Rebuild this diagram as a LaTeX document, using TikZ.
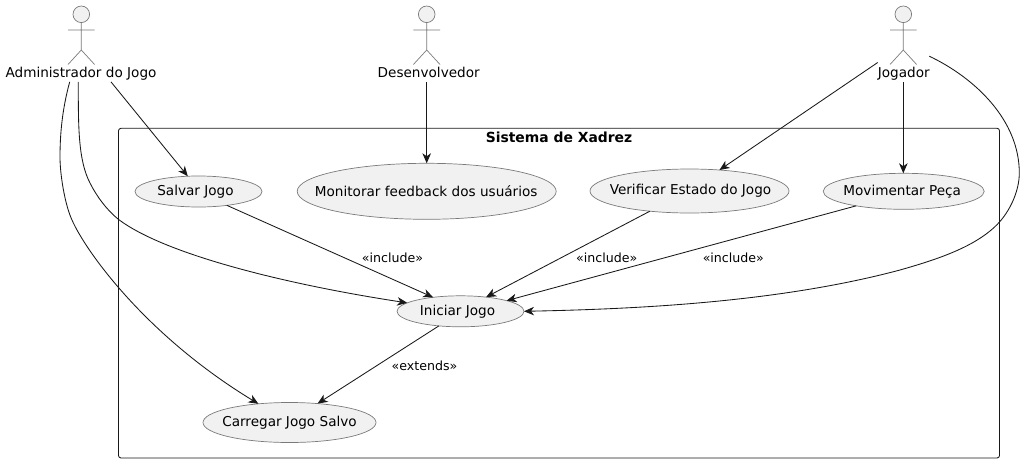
\documentclass[tikz,border=0pt]{standalone}
\usepackage{fontspec}
\setmainfont{DejaVu Sans}
\usetikzlibrary{shapes.geometric,arrows.meta}
\definecolor{ufill}{HTML}{F1F1F1}
\definecolor{ustroke}{HTML}{7A7A7A}
\definecolor{uline}{HTML}{181818}
\tikzset{
  usecase/.style={ellipse,draw=ustroke,fill=ufill,line width=0.7pt,inner sep=0pt,outer sep=0pt,font=\fontsize{13.6}{16}\selectfont},
  actorlabel/.style={inner sep=0pt,anchor=base,font=\fontsize{13.6}{16}\selectfont,text height=10pt,text depth=4.2pt},
  actorline/.style={draw=ustroke,line width=0.7pt},
  conn/.style={draw=uline,line width=0.85pt,-{Stealth[length=10pt,width=8.5pt,inset=3pt]}},
  edgelabel/.style={inner sep=0pt,anchor=base,font=\fontsize{12.6}{15}\selectfont},
  framebox/.style={draw=uline,line width=0.85pt,rounded corners=2.5pt},
  frametitle/.style={inner sep=0pt,font=\fontsize{13.9}{16}\selectfont\bfseries}
}
\newcommand{\stick}[1]{%
  \draw[actorline,fill=ufill] (#1,14.3) circle (8.3);
  \draw[actorline] (#1,22.6) -- (#1,50) (#1-13.3,30) -- (#1+13.3,30)
    (#1-13.3,64.5) -- (#1,50) -- (#1+13.3,64.5);
}
\newcommand{\uc}[2][0pt]{\makebox[0pt]{\hspace*{#1}#2}}
\begin{document}
\begin{tikzpicture}[x=1pt,y=-1pt]
\useasboundingbox (0,0) rectangle (1035,463);
\draw[framebox] (118.5,128.3) rectangle (999.5,458);
\node[frametitle] (title) at (559,137.7) {Sistema de Xadrez};
\stick{81.3}\stick{426.7}\stick{903.3}
\node[actorlabel] (admin) at (81,77.5) {Administrador do Jogo};
\node[actorlabel] (dev) at (428.7,77.5) {Desenvolvedor};
\node[actorlabel] (jog) at (903.8,77.5) {Jogador};
\node[usecase,minimum width=127pt,minimum height=31pt] (salvar) at (198.5,191.5) {\uc[-6pt]{Salvar Jogo}};
\node[usecase,minimum width=259pt,minimum height=56pt] (monitor) at (426.7,191.3) {\uc[-1pt]{Monitorar feedback dos usuários}};
\node[usecase,minimum width=199pt,minimum height=44pt] (verif) at (689.5,191) {\uc[2pt]{Verificar Estado do Jogo}};
\node[usecase,minimum width=161pt,minimum height=36pt] (mover) at (903.7,191.3) {\uc[-3pt]{Movimentar Peça}};
\node[usecase,minimum width=127pt,minimum height=31pt] (iniciar) at (460.5,311.3) {\uc[-6pt]{Iniciar Jogo}};
\node[usecase,minimum width=173pt,minimum height=40pt] (carregar) at (289.5,422.5) {\uc{Carregar Jogo Salvo}};
\coordinate (a1) at (60,157);
\coordinate (a2) at (72,220);
\coordinate (b1) at (90,183);
\coordinate (b2) at (118,219);
\coordinate (j2) at (1019.3,173);
\coordinate (j3) at (999.5,222);
\coordinate (j4) at (900,270);
\draw[conn] ([xshift=-11.3pt]admin.south) .. controls (62,110) and (60,135) .. (a1) .. controls (60,175) and (65,205) .. (a2) .. controls (85,250) and (145,335) .. (carregar.149.6);
\draw[conn] ([xshift=-2.7pt]admin.south) .. controls (78.3,125) and (78,160) .. (b1) .. controls (97,197) and (107,210) .. (b2) .. controls (165,255) and (290,285) .. (iniciar.171);
\draw[conn] ([xshift=30pt]admin.south) -- (salvar.125.8);
\draw[conn] ([xshift=-2pt]dev.south) -- (monitor.north);
\draw[conn] ([xshift=-26.1pt,yshift=19.4pt]jog.south) -- (verif.35.2);
\draw[conn] ([xshift=-0.5pt]jog.south) -- ([xshift=-0.4pt]mover.north);
\draw[conn] ([xshift=25.5pt,yshift=25.7pt]jog.south) .. controls (975,78) and (1019.3,120) .. (j2) .. controls (1019.3,190) and (1011,209) .. (j3) .. controls (977,247) and (935,260) .. (j4) .. controls (780,302) and (640,309) .. (iniciar.east);
\draw[conn] (salvar.-26) -- (iniciar.153);
\draw[conn] (verif.207.9) -- (iniciar.29.7);
\draw[conn] (mover.197.4) -- (iniciar.13.4);
\draw[conn] (iniciar.214.7) -- (carregar.34.4);
\node[edgelabel] (l1) at (392.5,262.7) {«include»};
\node[edgelabel] (l2) at (606.7,262.7) {«include»};
\node[edgelabel] (l3) at (733.3,262.7) {«include»};
\node[edgelabel] (l4) at (424.5,370) {«extends»};
\end{tikzpicture}
\end{document}
